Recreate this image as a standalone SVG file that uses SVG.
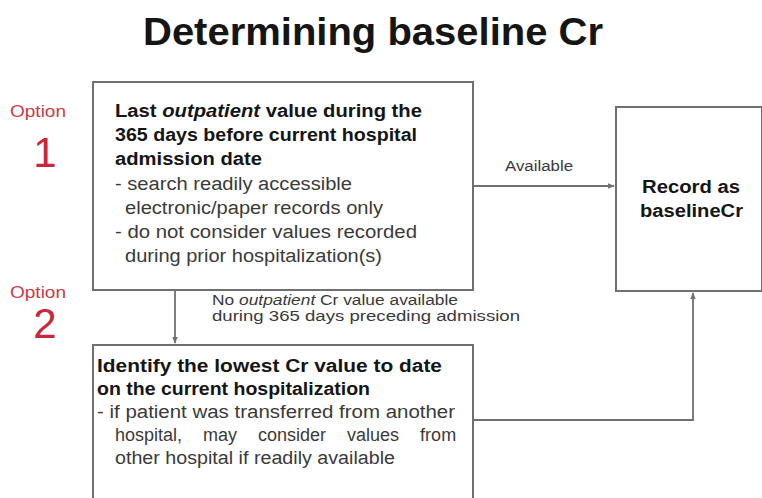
<svg xmlns="http://www.w3.org/2000/svg" width="762" height="498" viewBox="0 0 762 498">
<defs>
<style>
.box{fill:#fff;stroke:#707070;stroke-width:2}
.con{fill:none;stroke:#707070;stroke-width:1.8}
.t{font-family:"Liberation Sans",Arial,sans-serif}
.b{font-weight:bold;fill:#151515;font-size:18px}
.n{fill:#3a3a3a;font-size:18px}
.lab{fill:#3a3a3a;font-size:14px}
.opt{fill:#cc3a48;font-size:17px}
.num{fill:#c8283a;font-size:42px}
</style>
<marker id="arr" viewBox="0 0 10 10" refX="9" refY="5" markerWidth="7" markerHeight="7" orient="auto" markerUnits="userSpaceOnUse">
<path d="M0,1 L10,5 L0,9 z" fill="#707070"/>
</marker>
</defs>
<rect width="762" height="498" fill="#fff"/>
<text class="t" x="143" y="45" font-size="39" font-weight="bold" fill="#151515" textLength="460" lengthAdjust="spacingAndGlyphs">Determining baseline Cr</text>

<g id="option1">
<text class="t opt" x="10" y="117" textLength="56" lengthAdjust="spacingAndGlyphs">Option</text>
<text class="t num" x="45" y="167" text-anchor="middle">1</text>
</g>
<g id="option2">
<text class="t opt" x="10" y="298" textLength="56" lengthAdjust="spacingAndGlyphs">Option</text>
<text class="t num" x="45" y="338" text-anchor="middle">2</text>
</g>

<g id="connectors">
<line class="con" x1="473" y1="186" x2="614" y2="186" marker-end="url(#arr)"/>
<line class="con" x1="175" y1="290" x2="175" y2="343" marker-end="url(#arr)"/>
<polyline class="con" points="473,420 693,420 693,293" marker-end="url(#arr)"/>
<text class="t lab" x="505" y="171" textLength="68" lengthAdjust="spacingAndGlyphs">Available</text>
<text class="t lab" x="212" y="305" textLength="246" lengthAdjust="spacingAndGlyphs">No <tspan font-style="italic">outpatient</tspan> Cr value available</text>
<text class="t lab" x="212" y="321" textLength="308" lengthAdjust="spacingAndGlyphs">during 365 days preceding admission</text>
</g>

<g id="box1">
<rect class="box" x="93" y="82" width="380" height="208"/>
<text class="t b" x="115" y="117" textLength="307" lengthAdjust="spacingAndGlyphs">Last <tspan font-style="italic">outpatient</tspan> value during the</text>
<text class="t b" x="115" y="141" textLength="302" lengthAdjust="spacingAndGlyphs">365 days before current hospital</text>
<text class="t b" x="115" y="165" textLength="147" lengthAdjust="spacingAndGlyphs">admission date</text>
<text class="t n" x="115" y="190" textLength="237" lengthAdjust="spacingAndGlyphs">- search readily accessible</text>
<text class="t n" x="125" y="214" textLength="258" lengthAdjust="spacingAndGlyphs">electronic/paper records only</text>
<text class="t n" x="115" y="238" textLength="302" lengthAdjust="spacingAndGlyphs">- do not consider values recorded</text>
<text class="t n" x="125" y="262" textLength="257" lengthAdjust="spacingAndGlyphs">during prior hospitalization(s)</text>
</g>

<g id="box2">
<rect class="box" x="93" y="345" width="380" height="170"/>
<text class="t b" x="97" y="372" textLength="345" lengthAdjust="spacingAndGlyphs">Identify the lowest Cr value to date</text>
<text class="t b" x="97" y="395" textLength="273" lengthAdjust="spacingAndGlyphs">on the current hospitalization</text>
<text class="t n" x="97" y="418" textLength="358" lengthAdjust="spacingAndGlyphs">- if patient was transferred from another</text>
<text class="t n" x="115" y="441" word-spacing="16">hospital, may consider values from</text>
<text class="t n" x="115" y="464" textLength="280" lengthAdjust="spacingAndGlyphs">other hospital if readily available</text>
</g>

<g id="box3">
<rect class="box" x="616" y="107" width="146" height="184"/>
<text class="t b" x="642" y="193" textLength="98" lengthAdjust="spacingAndGlyphs">Record as</text>
<text class="t b" x="640" y="217" textLength="103" lengthAdjust="spacingAndGlyphs">baselineCr</text>
</g>
</svg>
